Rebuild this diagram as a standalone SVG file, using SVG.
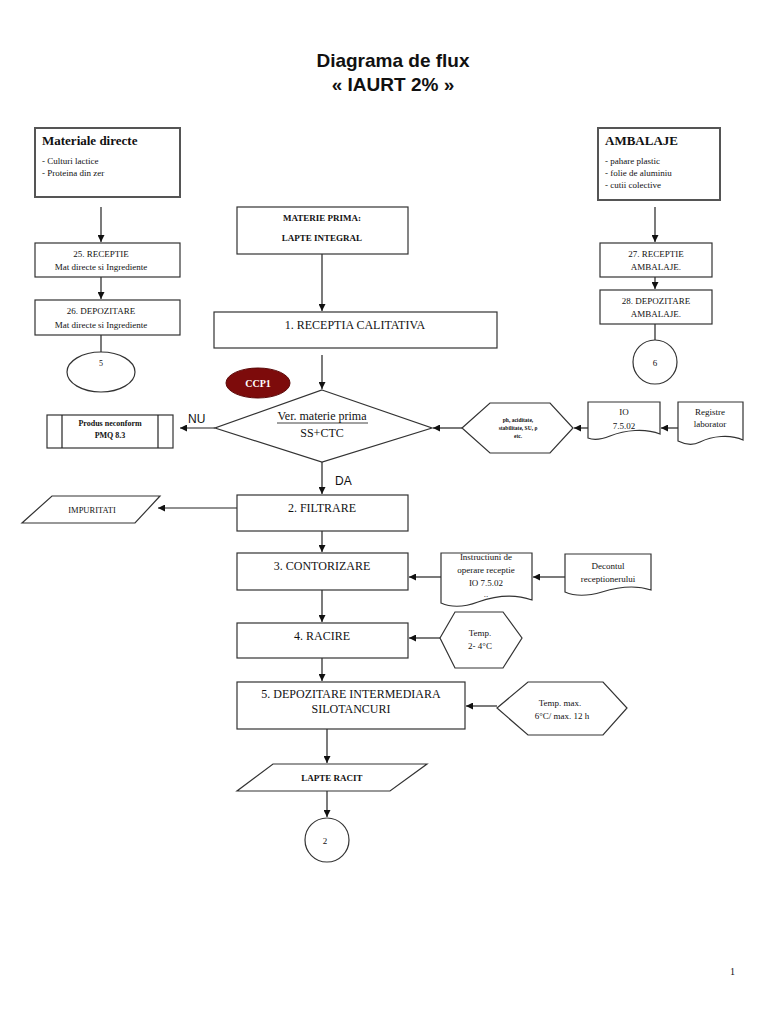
<svg xmlns="http://www.w3.org/2000/svg" width="768" height="1024" viewBox="0 0 768 1024">
<style>
.b{fill:#fff;stroke:#333;stroke-width:1.2}
.bb{fill:#fff;stroke:#555;stroke-width:2}
.t{font-family:"Liberation Serif","Times New Roman",serif;fill:#111;text-anchor:middle}
.tl{font-family:"Liberation Serif","Times New Roman",serif;fill:#111}
.s{font-family:"Liberation Sans",Arial,sans-serif;fill:#111}
.c{stroke:#222;stroke-width:1.2;fill:none}
</style>
<defs>
<marker id="a" viewBox="0 0 10 10" refX="10" refY="5" markerWidth="7" markerHeight="7" orient="auto" markerUnits="userSpaceOnUse"><path d="M0,0 L10,5 L0,10 Z" fill="#111"/></marker>
</defs>
<rect width="768" height="1024" fill="#fff"/>
<g id="title">
<text x="393" y="67" class="s" font-size="19" font-weight="bold" text-anchor="middle">Diagrama de flux</text>
<text x="393" y="91" class="s" font-size="19" font-weight="bold" text-anchor="middle">« IAURT 2% »</text>
</g>
<g id="connectors">
<line x1="101" y1="207" x2="101" y2="242" class="c" marker-end="url(#a)"/>
<line x1="101" y1="277" x2="101" y2="299" class="c" marker-end="url(#a)"/>
<line x1="101" y1="335" x2="101" y2="352" class="c"/>
<line x1="655" y1="207" x2="655" y2="242" class="c" marker-end="url(#a)"/>
<line x1="655" y1="277" x2="655" y2="289" class="c" marker-end="url(#a)"/>
<line x1="655" y1="324" x2="655" y2="340" class="c"/>
<line x1="322" y1="254" x2="322" y2="311" class="c" marker-end="url(#a)"/>
<line x1="322" y1="355" x2="322" y2="389" class="c" marker-end="url(#a)"/>
<line x1="215" y1="428" x2="180" y2="428" class="c" marker-end="url(#a)"/>
<line x1="462" y1="428" x2="433" y2="428" class="c" marker-end="url(#a)"/>
<line x1="588" y1="428" x2="574" y2="428" class="c" marker-end="url(#a)"/>
<line x1="678" y1="428" x2="661" y2="428" class="c" marker-end="url(#a)"/>
<line x1="322" y1="462" x2="322" y2="494" class="c" marker-end="url(#a)"/>
<line x1="237" y1="508" x2="158" y2="508" class="c" marker-end="url(#a)"/>
<line x1="322" y1="531" x2="322" y2="552" class="c" marker-end="url(#a)"/>
<line x1="441" y1="577" x2="409" y2="577" class="c" marker-end="url(#a)"/>
<line x1="565" y1="577" x2="533" y2="577" class="c" marker-end="url(#a)"/>
<line x1="322" y1="590" x2="322" y2="622" class="c" marker-end="url(#a)"/>
<line x1="440" y1="638" x2="409" y2="638" class="c" marker-end="url(#a)"/>
<line x1="322" y1="658" x2="322" y2="681" class="c" marker-end="url(#a)"/>
<line x1="497" y1="706" x2="466" y2="706" class="c" marker-end="url(#a)"/>
<line x1="327" y1="729" x2="327" y2="763" class="c" marker-end="url(#a)"/>
<line x1="327" y1="791" x2="327" y2="817" class="c" marker-end="url(#a)"/>
<text x="188" y="423" class="s" font-size="12">NU</text>
<text x="335" y="485" class="s" font-size="12">DA</text>
</g>
<g id="materiale">
<rect x="35" y="128" width="145" height="69" class="bb"/>
<text x="42" y="145" class="tl" font-size="13" font-weight="bold">Materiale directe</text>
<text x="42" y="164" class="tl" font-size="9">- Culturi lactice</text>
<text x="42" y="176" class="tl" font-size="9">- Proteina din zer</text>
</g>
<g id="n25">
<rect x="35" y="243" width="145" height="34" class="b"/>
<text x="101" y="257" class="t" font-size="9">25. RECEPTIE</text>
<text x="101" y="270" class="t" font-size="9">Mat directe  si Ingrediente</text>
</g>
<g id="n26">
<rect x="35" y="300" width="145" height="35" class="b"/>
<text x="101" y="314" class="t" font-size="9">26. DEPOZITARE</text>
<text x="101" y="328" class="t" font-size="9">Mat directe si Ingrediente</text>
</g>
<g id="c5">
<ellipse cx="101" cy="372" rx="34" ry="20" class="b"/>
<text x="101" y="366" class="t" font-size="8">5</text>
</g>
<g id="ambalaje">
<rect x="598" y="128" width="122" height="72" class="bb"/>
<text x="605" y="145" class="tl" font-size="13" font-weight="bold">AMBALAJE</text>
<text x="605" y="164" class="tl" font-size="9">- pahare plastic</text>
<text x="605" y="176" class="tl" font-size="9">- folie de aluminiu</text>
<text x="605" y="188" class="tl" font-size="9">- cutii colective</text>
</g>
<g id="n27">
<rect x="600" y="243" width="112" height="34" class="b"/>
<text x="656" y="257" class="t" font-size="9">27. RECEPTIE</text>
<text x="656" y="270" class="t" font-size="9">AMBALAJE.</text>
</g>
<g id="n28">
<rect x="600" y="290" width="112" height="34" class="b"/>
<text x="656" y="304" class="t" font-size="9">28. DEPOZITARE</text>
<text x="656" y="317" class="t" font-size="9">AMBALAJE.</text>
</g>
<g id="c6">
<circle cx="655" cy="362" r="22" class="b"/>
<text x="655" y="366" class="t" font-size="9">6</text>
</g>
<g id="materie">
<rect x="237" y="207" width="171" height="47" class="b"/>
<text x="322" y="221" class="t" font-size="9" font-weight="bold">MATERIE  PRIMA:</text>
<text x="322" y="241" class="t" font-size="9" font-weight="bold">LAPTE INTEGRAL</text>
</g>
<g id="n1">
<rect x="214" y="312" width="283" height="36" class="b"/>
<text x="355" y="329" class="t" font-size="12">1. RECEPTIA CALITATIVA</text>
</g>
<g id="ccp1">
<ellipse cx="258" cy="383" rx="32" ry="15" fill="#7d0b0b" stroke="#5a0808" stroke-width="1"/>
<text x="258" y="387" class="t" font-size="10" font-weight="bold" style="fill:#fff">CCP1</text>
</g>
<g id="decision">
<polygon points="322,390 432,428 322,462 215,428" class="b"/>
<text x="322" y="420" class="t" font-size="12">Ver. materie prima</text>
<line x1="277" y1="423" x2="368" y2="423" stroke="#111" stroke-width="0.8"/>
<text x="322" y="437" class="t" font-size="12">SS+CTC</text>
</g>
<g id="neconform">
<rect x="47" y="415" width="126" height="33" class="b"/>
<line x1="62" y1="415" x2="62" y2="448" class="c"/>
<line x1="158" y1="415" x2="158" y2="448" class="c"/>
<text x="110" y="426" class="t" font-size="8" font-weight="bold">Produs neconform</text>
<text x="110" y="438" class="t" font-size="8" font-weight="bold">PMQ 8.3</text>
</g>
<g id="phhex">
<polygon points="462,428 490,403 550,403 573,428 550,453 490,453" class="b"/>
<text x="518" y="422" class="t" font-size="5.5" font-weight="bold">ph, aciditate,</text>
<text x="518" y="430" class="t" font-size="5.5" font-weight="bold">stabilitate, SU, ρ</text>
<text x="518" y="438" class="t" font-size="5.5" font-weight="bold">etc.</text>
</g>
<g id="io">
<path d="M588,402 H660 V434 C645,428 625,430 610,436 C600,440 593,440 588,438 Z" class="b"/>
<text x="624" y="415" class="t" font-size="9">IO</text>
<text x="624" y="429" class="t" font-size="9">7.5.02</text>
</g>
<g id="registre">
<path d="M678,402 H743 V440 C730,434 712,436 700,442 C692,446 684,444 678,441 Z" class="b"/>
<text x="710" y="415" class="t" font-size="9">Registre</text>
<text x="710" y="427" class="t" font-size="9">laborator</text>
</g>
<g id="n2">
<rect x="237" y="495" width="171" height="36" class="b"/>
<text x="322" y="512" class="t" font-size="12">2. FILTRARE</text>
</g>
<g id="impuritati">
<polygon points="52,496 160,496 135,523 22,523" class="b"/>
<text x="92" y="513" class="t" font-size="8.5">IMPURITATI</text>
</g>
<g id="n3">
<rect x="237" y="553" width="171" height="37" class="b"/>
<text x="322" y="570" class="t" font-size="12">3. CONTORIZARE</text>
</g>
<g id="instructiuni">
<path d="M441,553 H532 V600 C515,594 495,596 478,602 C462,608 450,607 441,603 Z" class="b"/>
<text x="486" y="560" class="t" font-size="9">Instructiuni de</text>
<text x="486" y="573" class="t" font-size="9">operare receptie</text>
<text x="486" y="586" class="t" font-size="9">IO 7.5.02</text>
<text x="486" y="597" class="t" font-size="9">..</text>
</g>
<g id="decontul">
<path d="M565,554 H651 V590 C636,585 618,587 602,592 C585,597 574,596 565,592 Z" class="b"/>
<text x="608" y="569" class="t" font-size="9">Decontul</text>
<text x="608" y="582" class="t" font-size="9">receptionerului</text>
</g>
<g id="n4">
<rect x="237" y="623" width="171" height="35" class="b"/>
<text x="322" y="640" class="t" font-size="12">4.  RACIRE</text>
</g>
<g id="temp1">
<polygon points="440,638 455,612 503,612 522,638 503,668 455,668" class="b"/>
<text x="480" y="636" class="t" font-size="9">Temp.</text>
<text x="480" y="649" class="t" font-size="9">2- 4°C</text>
</g>
<g id="n5">
<rect x="237" y="682" width="228" height="47" class="b"/>
<text x="351" y="698" class="t" font-size="12">5. DEPOZITARE INTERMEDIARA</text>
<text x="351" y="713" class="t" font-size="12">SILOTANCURI</text>
</g>
<g id="temp2">
<polygon points="497,708 528,682 603,682 627,708 603,735 528,735" class="b"/>
<text x="560" y="706" class="t" font-size="9">Temp. max.</text>
<text x="562" y="719" class="t" font-size="9">6°C/ max. 12 h</text>
</g>
<g id="lapteracit">
<polygon points="273,764 427,764 390,791 237,791" class="b"/>
<text x="332" y="781" class="t" font-size="9" font-weight="bold">LAPTE RACIT</text>
</g>
<g id="c2">
<circle cx="327" cy="840" r="22" class="b"/>
<text x="325" y="844" class="t" font-size="9">2</text>
</g>
<text x="730" y="975" class="tl" font-size="10">1</text>
</svg>
